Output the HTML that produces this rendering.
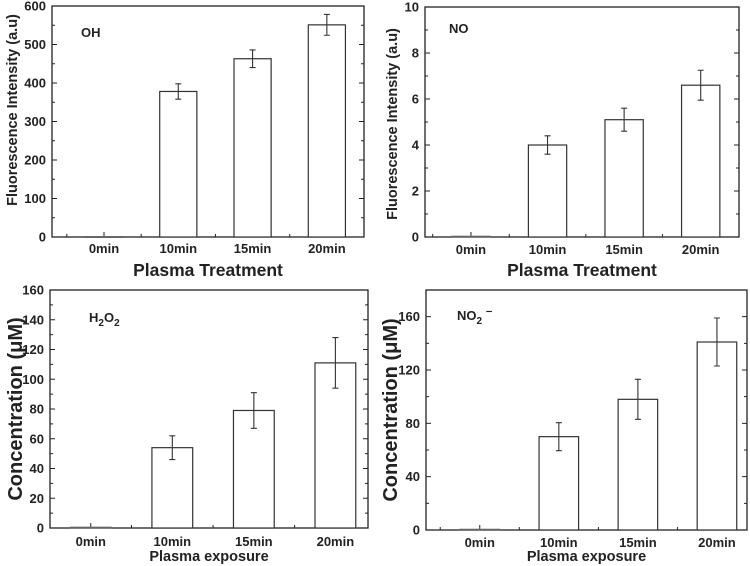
<!DOCTYPE html>
<html><head><meta charset="utf-8"><style>
body{margin:0;background:#fff;}
svg{display:block;font-family:"Liberation Sans",Arial,sans-serif;font-weight:bold;}
</style></head><body>
<svg id="fig" width="750" height="566" viewBox="0 0 750 566"></svg>
<script>
const categories=["0min","10min","15min","20min"];
const ohValues=[1,378,463,551];
const ohErrors=[0,20,23,27];
const noValues=[0.03,4.0,5.1,6.6];
const noErrors=[0,0.4,0.5,0.65];
const h2o2Values=[0.5,54,79,111];
const h2o2Errors=[0,8,12,17];
const no2Values=[0.5,70,98,141];
const no2Errors=[0,10.5,15,18];
const ohTicks=[0,100,200,300,400,500,600];
const noTicks=[0,2,4,6,8,10];
const h2o2Ticks=[0,20,40,60,80,100,120,140,160];
const no2Ticks=[0,40,80,120,160];

const NS="http://www.w3.org/2000/svg";
const svg=document.getElementById('fig');
function mk(tag,attrs,parent,text){const e=document.createElementNS(NS,tag);for(const k in attrs)e.setAttribute(k,attrs[k]);if(text!==undefined)e.textContent=text;(parent||svg).appendChild(e);return e;}

function panel(o){
  const g=mk('g',{});
  
  
  const xs=v=>o.L+(v-o.xmin)/(o.xmax-o.xmin)*(o.R-o.L);
  const ys=v=>o.B-(v-0)/(o.ymax)*(o.B-o.T);
  const fr=mk('rect',{x:o.L,y:o.T,width:o.R-o.L,height:o.B-o.T,fill:'none',stroke:'#222','stroke-width':1.3},g);
  
  
  o.ticks.forEach((t,i)=>{
    const y=ys(t);
    mk('line',{x1:o.L,x2:o.L+5,y1:y,y2:y,stroke:'#222'},g);
    mk('line',{x1:o.R,x2:o.R-5,y1:y,y2:y,stroke:'#222'},g);
    const lb=mk('text',{x:o.L-6,y:y+4.5,'text-anchor':'end','font-size':13,fill:'#222'},g,t);
    
    
    if(i<o.ticks.length-1){const m=ys((t+o.ticks[i+1])/2);
      mk('line',{x1:o.L,x2:o.L+3,y1:m,y2:m,stroke:'#222'},g);
      mk('line',{x1:o.R,x2:o.R-3,y1:m,y2:m,stroke:'#222'},g);}
  });
  for(let k=0.5;k<=4.5;k+=0.5){ if(k<o.xmin||k>o.xmax)continue; const x=xs(k);const len=(k%1===0)?5:3;
    mk('line',{x1:x,x2:x,y1:o.B,y2:o.B-len,stroke:'#222'},g);}
  categories.forEach((c,i)=>{
    const cx=xs(i+1),w=xs(1.25)-xs(0.75),v=o.vals[i],e=o.errs[i];
    const b=mk('rect',{x:cx-w/2,y:ys(v),width:w,height:Math.max(o.B-ys(v),0.8),fill:'#fff',stroke:i==0?'#666':'#333','stroke-width':1.2},g);
    
    
    if(e>0){
      const eb=mk('path',{d:`M${cx},${ys(v+e)}V${ys(v-e)}M${cx-3},${ys(v+e)}H${cx+3}M${cx-3},${ys(v-e)}H${cx+3}`,stroke:'#333',fill:'none','stroke-width':1.1},g);
      
      
    }
    const xl=mk('text',{x:cx,y:o.xlY,'text-anchor':'middle','font-size':13,fill:'#222'},g,c);
    
    
  });
  const xt=mk('text',{x:(o.L+o.R)/2,y:o.xtY,'text-anchor':'middle','font-size':o.xtSize,fill:'#222'},g,o.xtitle);
  
  
  const yt=mk('text',{transform:`translate(${o.ytX},${o.ytY}) rotate(-90)`,'text-anchor':'middle','font-size':o.ytSize,fill:'#222'},g,o.ytitle);
  
  
  const sp=mk('text',{x:o.lblX,y:o.lblY,'font-size':13,fill:'#222'},g);
  
  
  sp.innerHTML=o.label;
}
panel({name:'oh-panel',L:52,R:364,T:6,B:237,xmin:0.3,xmax:4.5,ymax:600,ticks:ohTicks,vals:ohValues,errs:ohErrors,
  xlY:253,xtY:276,xtSize:17.5,xtitle:'Plasma Treatment',ytX:17,ytY:110,ytSize:14.5,ytitle:'Fluorescence Intensity (a.u)',lblX:81,lblY:37,label:'OH'});
panel({name:'no-panel',L:425,R:739,T:7,B:237,xmin:0.4,xmax:4.5,ymax:10,ticks:noTicks,vals:noValues,errs:noErrors,
  xlY:254,xtY:276,xtSize:17.5,xtitle:'Plasma Treatment',ytX:397,ytY:124,ytSize:14.5,ytitle:'Fluorescence Intensity (a.u)',lblX:449,lblY:33,label:'NO'});
panel({name:'h2o2-panel',L:50,R:368,T:290,B:528,xmin:0.5,xmax:4.4,ymax:160,ticks:h2o2Ticks,vals:h2o2Values,errs:h2o2Errors,
  xlY:546,xtY:561,xtSize:14.5,xtitle:'Plasma exposure',ytX:22,ytY:409,ytSize:20,ytitle:'Concentration (\u03bcM)',lblX:89,lblY:322,label:'H<tspan font-size="10" dy="4">2</tspan><tspan dy="-4">O</tspan><tspan font-size="10" dy="4">2</tspan>'});
panel({name:'no2-panel',L:426,R:747,T:290,B:530,xmin:0.32,xmax:4.38,ymax:180,ticks:no2Ticks,vals:no2Values,errs:no2Errors,
  xlY:547,xtY:561,xtSize:14.5,xtitle:'Plasma exposure',ytX:397,ytY:410,ytSize:20,ytitle:'Concentration (\u03bcM)',lblX:457,lblY:320,label:'NO<tspan font-size="10" dy="4">2</tspan><tspan dy="-6"> \u207b</tspan>'});
</script>
</body></html>
